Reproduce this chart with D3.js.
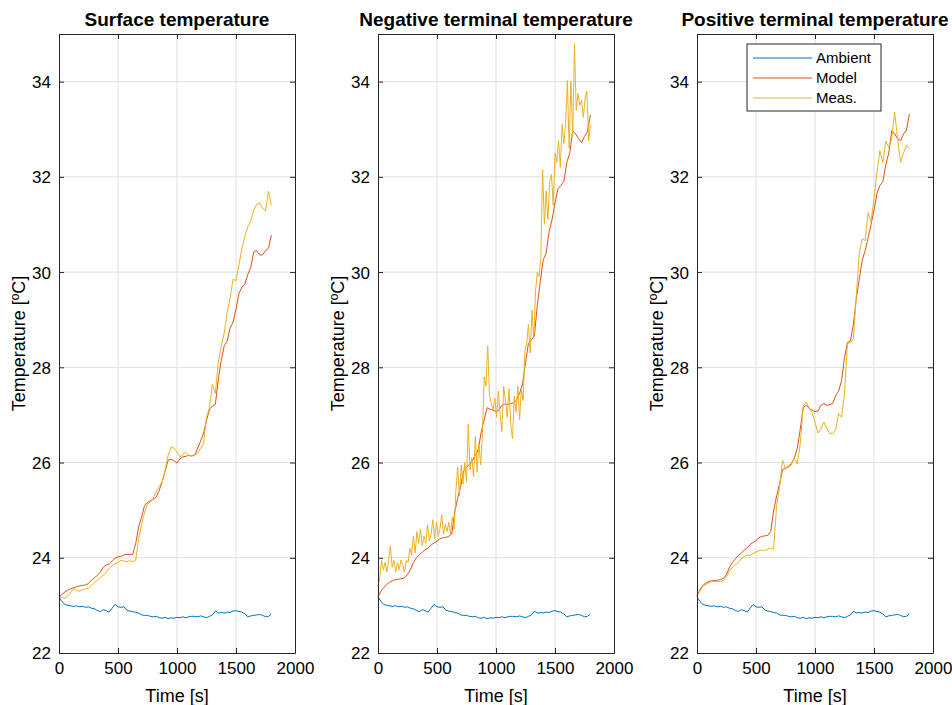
<!DOCTYPE html>
<html>
<head>
<meta charset="utf-8">
<script src="https://cdn.jsdelivr.net/npm/d3@7"></script>
<style>
  body { margin: 0; background: #fff; }
  svg { display: block; font-family: "Liberation Sans", Arial, sans-serif; }
</style>
</head>
<body>
<div id="chart"></div>
<script>
// sample times [s]
const t25 = d3.range(0, 1801, 25);
const t15 = d3.range(0, 1801, 15);

const titles = ["Surface temperature", "Negative terminal temperature", "Positive terminal temperature"];
const legendLabels = ["Ambient", "Model", "Meas."];
const xTicks = [0, 500, 1000, 1500, 2000];
const yTicks = [22, 24, 26, 28, 30, 32, 34];

// ambient, same for all three panels (25 s)
const ambient = [23.18, 23.08, 23.02, 23.0, 22.99, 22.98, 22.99, 22.97, 22.98, 22.96, 22.97, 22.94, 22.93, 22.89, 22.87, 22.91,
  22.89, 22.86, 22.94, 23.02, 22.97, 22.96, 22.97, 22.9, 22.88, 22.87, 22.85, 22.84, 22.8, 22.79, 22.79, 22.77,
  22.76, 22.77, 22.74, 22.73, 22.75, 22.72, 22.74, 22.73, 22.75, 22.74, 22.76, 22.74, 22.76, 22.77, 22.77, 22.76,
  22.78, 22.76, 22.74, 22.77, 22.8, 22.88, 22.84, 22.85, 22.84, 22.86, 22.85, 22.88, 22.89, 22.87, 22.86, 22.82,
  22.76, 22.78, 22.79, 22.8, 22.81, 22.79, 22.76, 22.77, 22.82];

// surface (25 s)
const surfModel = [23.18, 23.23, 23.28, 23.32, 23.35, 23.37, 23.39, 23.41, 23.42, 23.43, 23.46, 23.53, 23.58, 23.63, 23.7, 23.8,
  23.85, 23.87, 23.93, 23.99, 24.02, 24.03, 24.06, 24.07, 24.07, 24.07, 24.3, 24.65, 24.85, 25.1, 25.16, 25.2,
  25.23, 25.28, 25.42, 25.6, 25.82, 26.05, 26.07, 26.04, 25.99, 26.08, 26.12, 26.13, 26.15, 26.14, 26.16, 26.3,
  26.45, 26.62, 26.88, 27.12, 27.18, 27.22, 27.75, 28.15, 28.45, 28.55, 28.82, 28.95, 29.22, 29.55, 29.68, 29.75,
  29.95, 30.1, 30.42, 30.45, 30.36, 30.36, 30.45, 30.5, 30.78];
const surfMeas = [23.18, 23.17, 23.15, 23.2, 23.28, 23.35, 23.31, 23.3, 23.33, 23.35, 23.36, 23.42, 23.48, 23.53, 23.58, 23.63,
  23.69, 23.78, 23.83, 23.88, 23.9, 23.95, 23.93, 23.92, 23.94, 23.92, 23.95, 24.4, 24.7, 24.95, 25.14, 25.17,
  25.25, 25.4, 25.5, 25.6, 25.85, 26.15, 26.33, 26.3, 26.22, 26.12, 26.18, 26.22, 26.15, 26.13, 26.17, 26.19,
  26.3, 26.4, 26.95, 27.15, 27.65, 27.45, 28.1, 28.45, 28.72, 29.15, 29.45, 29.85, 29.82, 30.15, 30.5, 30.75,
  30.95, 31.08, 31.3, 31.42, 31.45, 31.35, 31.28, 31.7, 31.4];

// negative terminal (model 25 s, meas 15 s)
const negModel = [23.18, 23.3, 23.38, 23.44, 23.49, 23.52, 23.54, 23.55, 23.56, 23.58, 23.65, 23.75, 23.9, 24.0, 24.06, 24.12,
  24.17, 24.2, 24.27, 24.31, 24.35, 24.4, 24.42, 24.43, 24.45, 24.5, 24.95, 25.25, 25.5, 25.82, 25.9, 25.96,
  26.05, 26.15, 26.28, 26.65, 26.9, 27.15, 27.12, 27.1, 27.07, 27.1, 27.2, 27.23, 27.22, 27.24, 27.25, 27.32,
  27.45, 27.65, 28.1, 28.5, 28.58, 28.65, 29.3, 29.8, 30.25, 30.4, 30.85, 31.1, 31.45, 31.75, 31.82, 31.9,
  32.3, 32.5, 32.97, 32.9, 32.8, 32.72, 32.85, 32.95, 33.3];
const negMeas = [23.4, 23.6, 23.95, 23.75, 23.9, 23.7, 23.95, 24.25, 23.8, 23.95, 23.7, 23.9, 23.75, 23.95, 23.85, 23.7,
  23.95, 23.9, 24.2, 24.05, 24.45, 24.1, 24.55, 24.3, 24.6, 24.25, 24.45, 24.3, 24.7, 24.35, 24.5, 24.8,
  24.4, 24.75, 24.45, 24.6, 24.9, 24.5, 24.7, 24.55, 24.75, 24.5, 24.85, 24.6, 25.4, 25.9, 25.3, 25.95,
  25.55, 26.0, 25.6, 26.8, 25.85, 26.1, 25.7, 26.55, 25.8, 26.4, 25.95, 26.6, 27.8, 27.6, 28.45, 27.4,
  27.25, 27.1, 27.35, 26.95, 27.5, 27.0, 26.65, 27.6, 27.3, 26.95, 27.55, 26.8, 26.5, 27.4, 27.05, 27.6,
  26.9, 27.55, 27.3, 28.35, 28.5, 28.9, 28.3, 29.2, 28.6, 29.6, 30.0, 29.9, 30.3, 32.15, 31.0, 31.7,
  31.1, 31.9, 32.05, 31.4, 32.5, 32.3, 32.76, 32.2, 33.1, 32.7, 33.12, 34.02, 32.6, 34.0, 32.85, 34.8,
  33.4, 33.75, 33.5, 33.6, 33.25, 33.65, 33.8, 32.75, 33.1];

// positive terminal (25 s)
const posModel = [23.2, 23.33, 23.42, 23.47, 23.5, 23.52, 23.52, 23.53, 23.54, 23.57, 23.65, 23.8, 23.9, 23.98, 24.05, 24.1,
  24.16, 24.2, 24.28, 24.32, 24.36, 24.42, 24.45, 24.46, 24.47, 24.55, 25.0, 25.3, 25.55, 25.85, 25.88, 25.92,
  25.98, 26.1, 26.3, 26.7, 27.15, 27.2, 27.14, 27.1, 27.07, 27.08, 27.2, 27.24, 27.2, 27.22, 27.24, 27.4,
  27.5, 27.72, 28.2, 28.52, 28.55, 28.9, 29.45, 29.85, 30.25, 30.45, 30.72, 31.0, 31.3, 31.65, 31.82, 31.9,
  32.25, 32.5, 32.97, 32.9, 32.8, 32.76, 32.9, 32.98, 33.32];
const posMeas = [23.2, 23.3, 23.4, 23.44, 23.47, 23.5, 23.5, 23.5, 23.5, 23.52, 23.6, 23.72, 23.8, 23.85, 23.9, 23.98,
  24.02, 24.06, 24.05, 24.09, 24.12, 24.15, 24.16, 24.15, 24.18, 24.2, 24.2, 25.1, 25.5, 26.05, 25.87, 25.9,
  25.95, 26.1, 25.97, 26.4, 27.18, 27.27, 27.15, 27.05, 26.85, 26.62, 26.7, 26.85, 26.72, 26.61, 26.6, 26.68,
  27.03, 26.95, 27.45, 28.5, 28.52, 28.6, 29.5, 30.4, 30.7, 30.66, 31.25, 31.05, 31.55, 32.1, 32.55, 32.3,
  32.75, 32.62, 32.8, 33.36, 32.8, 32.3, 32.5, 32.66, 32.6];

const colors = ["#0072BD", "#D95319", "#EDB120"];

const width = 952, height = 705;
const panelLeft = [59, 378, 697];
const panelW = 236;
const plotTop = 34, plotBottom = 653;

const svg = d3.select("#chart").append("svg")
  .attr("width", width).attr("height", height);

const y = d3.scaleLinear().domain([22, 35]).range([plotBottom, plotTop]);

const panels = [
  [{t: t25, v: ambient}, {t: t25, v: surfModel}, {t: t25, v: surfMeas}],
  [{t: t25, v: ambient}, {t: t25, v: negModel}, {t: t15, v: negMeas}],
  [{t: t25, v: ambient}, {t: t25, v: posModel}, {t: t25, v: posMeas}]
];

panels.forEach((series, i) => {
  const x0 = panelLeft[i];
  const x = d3.scaleLinear().domain([0, 2000]).range([x0, x0 + panelW]);
  const g = svg.append("g");

  // grid
  g.append("g").selectAll("line").data(xTicks.slice(1, -1)).join("line")
    .attr("x1", d => x(d)).attr("x2", d => x(d))
    .attr("y1", plotTop).attr("y2", plotBottom)
    .attr("stroke", "#dfdfdf");
  g.append("g").selectAll("line").data(yTicks.slice(1)).join("line")
    .attr("x1", x0).attr("x2", x0 + panelW)
    .attr("y1", d => y(d)).attr("y2", d => y(d))
    .attr("stroke", "#dfdfdf");

  // data lines
  const line = d3.line().x(d => x(d[0])).y(d => y(d[1]));
  series.forEach((s, k) => {
    g.append("path")
      .datum(s.v.map((v, j) => [s.t[j], v]))
      .attr("fill", "none")
      .attr("stroke", colors[k])
      .attr("stroke-width", 1)
      .attr("d", line);
  });

  // axes (inward ticks on all four sides, like matlab box on)
  const axB = g.append("g").attr("transform", `translate(0,${plotBottom})`)
    .call(d3.axisBottom(x).tickValues(xTicks).tickFormat(d3.format("d"))
      .tickSizeInner(-5).tickSizeOuter(0).tickPadding(9));
  const axT = g.append("g").attr("transform", `translate(0,${plotTop})`)
    .call(d3.axisTop(x).tickValues(xTicks).tickSizeInner(-5).tickSizeOuter(0).tickFormat(""));
  const axL = g.append("g").attr("transform", `translate(${x0},0)`)
    .call(d3.axisLeft(y).tickValues(yTicks).tickSizeInner(-5).tickSizeOuter(0).tickPadding(8));
  const axR = g.append("g").attr("transform", `translate(${x0 + panelW},0)`)
    .call(d3.axisRight(y).tickValues(yTicks).tickSizeInner(-5).tickSizeOuter(0).tickFormat(""));
  [axB, axT, axL, axR].forEach(a => {
    a.select(".domain").attr("stroke", "#262626");
    a.selectAll(".tick line").attr("stroke", "#262626");
    a.selectAll("text").attr("font-size", 17).attr("fill", "#000")
      .attr("font-family", "Liberation Sans, Arial, sans-serif");
  });
  axL.selectAll(".tick text").attr("dy", "0.35em");

  // titles and labels
  g.append("text")
    .attr("x", x0 + panelW / 2).attr("y", 26)
    .attr("text-anchor", "middle")
    .attr("font-size", 19).attr("font-weight", "bold")
    .text(titles[i]);
  g.append("text")
    .attr("x", x0 + panelW / 2).attr("y", 702)
    .attr("text-anchor", "middle")
    .attr("font-size", 18)
    .text("Time [s]");
  g.append("text")
    .attr("transform", `translate(${x0 - 34},${(plotTop + plotBottom) / 2}) rotate(-90)`)
    .attr("text-anchor", "middle")
    .attr("font-size", 18)
    .text("Temperature [ºC]");

  // legend on the last panel
  if (i === 2) {
    const lg = g.append("g").attr("transform", "translate(747,44)");
    lg.append("rect").attr("width", 134).attr("height", 67)
      .attr("fill", "#fff").attr("stroke", "#262626");
    legendLabels.forEach((lab, k) => {
      const yy = 14 + k * 20;
      lg.append("line").attr("x1", 6).attr("x2", 65).attr("y1", yy).attr("y2", yy)
        .attr("stroke", colors[k]);
      lg.append("text").attr("x", 69).attr("y", yy).attr("dy", "0.35em")
        .attr("font-size", 15).text(lab);
    });
  }
});
</script>
</body>
</html>
